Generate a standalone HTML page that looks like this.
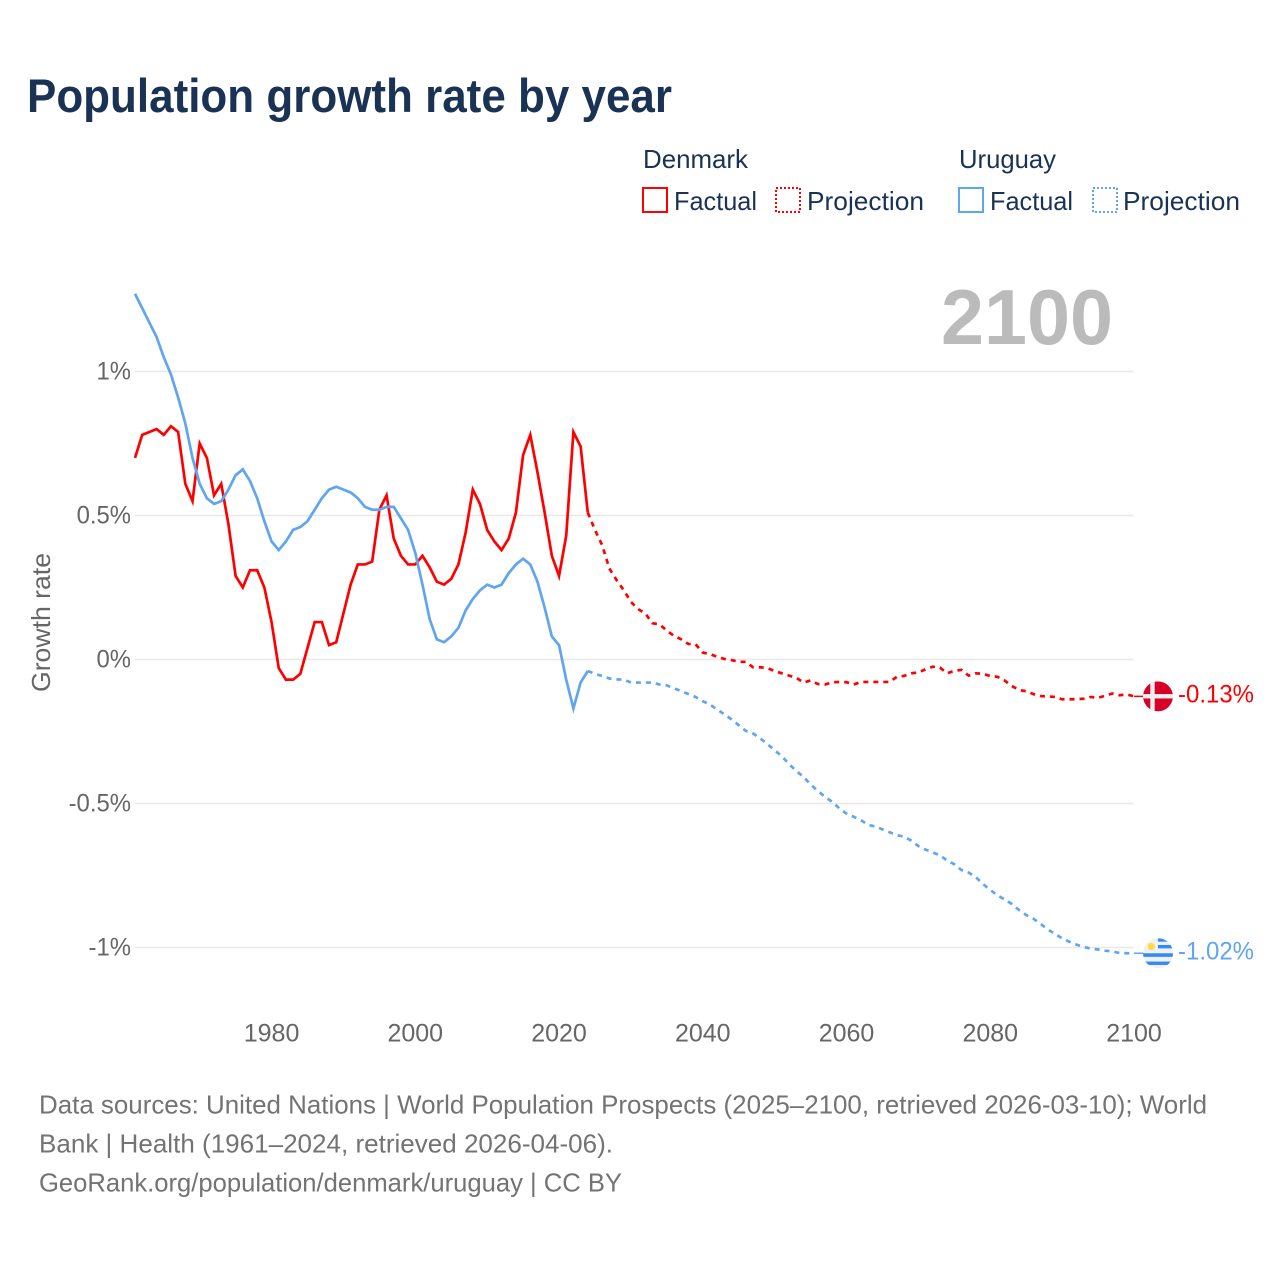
<!DOCTYPE html>
<html lang="en">
<head>
<meta charset="utf-8">
<title>Population growth rate by year</title>
<style>
html,body{margin:0;padding:0;background:#fff;width:1280px;height:1280px;overflow:hidden}
svg{display:block}
text{font-family:"Liberation Sans",sans-serif}
</style>
</head>
<body>
<svg id="chart" xmlns="http://www.w3.org/2000/svg" width="1280" height="1280" viewBox="0 0 1280 1280">
  <defs>
    <clipPath id="flag-clip"><circle cx="0" cy="0" r="15"/></clipPath>
  </defs>
  <rect x="0" y="0" width="1280" height="1280" fill="#fff"/>
  <text x="27" y="112" font-size="47" font-weight="700" fill="#1a3354" textLength="645" lengthAdjust="spacingAndGlyphs">Population growth rate by year</text>

  <g font-size="26" fill="#1a3354">
    <text x="643" y="168" textLength="105" lengthAdjust="spacingAndGlyphs">Denmark</text>
    <text x="959" y="168" textLength="97" lengthAdjust="spacingAndGlyphs">Uruguay</text>
    <rect x="643" y="188" width="24" height="24" fill="none" stroke="#ff0000" stroke-width="2"/>
    <text x="674" y="210" textLength="83" lengthAdjust="spacingAndGlyphs">Factual</text>
    <rect x="776" y="188" width="24" height="24" fill="none" stroke="#ff0000" stroke-width="2" stroke-dasharray="2 2"/>
    <text x="807" y="210" textLength="117" lengthAdjust="spacingAndGlyphs">Projection</text>
    <rect x="959" y="188" width="24" height="24" fill="none" stroke="#60a5ef" stroke-width="2"/>
    <text x="990" y="210" textLength="83" lengthAdjust="spacingAndGlyphs">Factual</text>
    <rect x="1093" y="188" width="24" height="24" fill="none" stroke="#60a5ef" stroke-width="2" stroke-dasharray="2 2"/>
    <text x="1123" y="210" textLength="117" lengthAdjust="spacingAndGlyphs">Projection</text>
  </g>

  <g id="grid"></g>
  <g id="y-ticks"></g>
  <g id="x-ticks"></g>
  <text x="0" y="0" transform="translate(50,622.5) rotate(-90)" text-anchor="middle" font-size="26" fill="#666" textLength="139" lengthAdjust="spacingAndGlyphs">Growth rate</text>
  <text id="year-label" x="941" y="344" font-size="78" font-weight="700" fill="#bbbbbb" textLength="172" lengthAdjust="spacingAndGlyphs"></text>
  <g id="series"></g>
  <g id="markers"></g>

  <g font-size="26" fill="#737373">
    <text x="39" y="1113.5" textLength="1168" lengthAdjust="spacingAndGlyphs">Data sources: United Nations | World Population Prospects (2025–2100, retrieved 2026-03-10); World</text>
    <text x="39" y="1152.5" textLength="574" lengthAdjust="spacingAndGlyphs">Bank | Health (1961–2024, retrieved 2026-04-06).</text>
    <text x="39" y="1191.5" textLength="583" lengthAdjust="spacingAndGlyphs">GeoRank.org/population/denmark/uruguay | CC BY</text>
  </g>
</svg>
<script>
const yearTicks = [1980, 2000, 2020, 2040, 2060, 2080, 2100];
const valueTicks = [1, 0.5, 0, -0.5, -1];
const valueTickLabels = ["1%", "0.5%", "0%", "-0.5%", "-1%"];
const factualStart = 1961;
const projectionStart = 2024;
const endYear = 2100;
const denmarkFactual = [
  0.70,0.78,0.79,0.80,0.78,0.81,0.79,0.61,0.55,0.75,
  0.70,0.57,0.61,0.47,0.29,0.25,0.31,0.31,0.25,0.13,
  -0.03,-0.07,-0.07,-0.05,0.04,0.13,0.13,0.05,0.06,0.16,
  0.26,0.33,0.33,0.34,0.52,0.57,0.42,0.36,0.33,0.33,
  0.36,0.32,0.27,0.26,0.28,0.33,0.44,0.59,0.54,0.45,
  0.41,0.38,0.42,0.51,0.71,0.78,0.65,0.51,0.36,0.29,
  0.43,0.79,0.74,0.51
];
const uruguayFactual = [
  1.27,1.22,1.17,1.12,1.05,0.99,0.91,0.82,0.70,0.61,
  0.56,0.54,0.55,0.59,0.64,0.66,0.62,0.56,0.48,0.41,
  0.38,0.41,0.45,0.46,0.48,0.52,0.56,0.59,0.60,0.59,
  0.58,0.56,0.53,0.52,0.52,0.53,0.53,0.49,0.45,0.37,
  0.26,0.14,0.07,0.06,0.08,0.11,0.17,0.21,0.24,0.26,
  0.25,0.26,0.30,0.33,0.35,0.33,0.27,0.18,0.08,0.05,
  -0.07,-0.17,-0.08,-0.04
];
const denmarkProjection = [
  0.51,0.45,0.397,0.316,0.276,0.241,0.20,0.175,0.16,0.126,
  0.122,0.10,0.082,0.07,0.054,0.053,0.024,0.019,0.009,0.002,
  -0.002,-0.008,-0.008,-0.027,-0.027,-0.03,-0.04,-0.048,-0.056,-0.063,
  -0.08,-0.073,-0.085,-0.087,-0.079,-0.078,-0.079,-0.087,-0.078,-0.078,
  -0.078,-0.078,-0.078,-0.06,-0.057,-0.048,-0.045,-0.034,-0.025,-0.028,
  -0.048,-0.039,-0.036,-0.056,-0.048,-0.05,-0.057,-0.06,-0.073,-0.092,
  -0.106,-0.11,-0.12,-0.127,-0.128,-0.13,-0.138,-0.138,-0.138,-0.136,
  -0.13,-0.133,-0.126,-0.118,-0.124,-0.121,-0.128
];
const uruguayProjection = [
  -0.04,-0.05,-0.057,-0.066,-0.069,-0.07,-0.08,-0.08,-0.08,-0.08,
  -0.087,-0.09,-0.10,-0.11,-0.12,-0.13,-0.145,-0.156,-0.174,-0.19,
  -0.208,-0.228,-0.248,-0.257,-0.274,-0.294,-0.315,-0.336,-0.363,-0.387,
  -0.407,-0.434,-0.456,-0.477,-0.494,-0.517,-0.535,-0.546,-0.558,-0.574,
  -0.58,-0.59,-0.60,-0.61,-0.615,-0.629,-0.648,-0.66,-0.67,-0.68,
  -0.698,-0.711,-0.731,-0.74,-0.756,-0.78,-0.80,-0.819,-0.833,-0.849,
  -0.87,-0.887,-0.90,-0.918,-0.937,-0.953,-0.968,-0.98,-0.99,-0.998,
  -1.004,-1.007,-1.011,-1.014,-1.019,-1.02,-1.02
];

const NS = "http://www.w3.org/2000/svg";
const plotLeft = 135, plotRight = 1133.5;
function xScale(year) { return 135 + (year - 1961) * (1134 - 135) / (2100 - 1961); }
function yScale(v) { return 659.5 - v * 288; }
function make(tag, attrs, parent) {
  const el = document.createElementNS(NS, tag);
  for (const k in attrs) el.setAttribute(k, attrs[k]);
  parent.appendChild(el);
  return el;
}
function pathFor(values, startYear) {
  return values.map((v, i) => (i ? "L" : "M") + xScale(startYear + i).toFixed(2) + " " + yScale(v).toFixed(2)).join(" ");
}

const gridG = document.getElementById("grid");
const yG = document.getElementById("y-ticks");
valueTicks.forEach((v, i) => {
  const line = make("line", {x1: plotLeft, x2: plotRight, y1: yScale(v), y2: yScale(v), stroke: "#e8e8e8", "stroke-width": 1.5}, gridG);
  
  
  const t = make("text", {x: 131, y: yScale(v) + 8, "text-anchor": "end", "font-size": 25, fill: "#666"}, yG);
  
  
  t.textContent = valueTickLabels[i];
  const natural = t.getComputedTextLength();
  t.setAttribute("textLength", (natural * 0.955).toFixed(1));
  t.setAttribute("lengthAdjust", "spacingAndGlyphs");
});
const xG = document.getElementById("x-ticks");
yearTicks.forEach(year => {
  const t = make("text", {x: xScale(year), y: 1041.5, "text-anchor": "middle", "font-size": 25, fill: "#666"}, xG);
  
  
  t.textContent = String(year);
});
document.getElementById("year-label").textContent = String(endYear);

const seriesG = document.getElementById("series");
const RED = "#ff0000", BLUE = "#60a5ef";
const denFact = make("path", {d: pathFor(denmarkFactual, factualStart), fill: "none", stroke: RED, "stroke-width": 2.7}, seriesG);


const uruFact = make("path", {d: pathFor(uruguayFactual, factualStart), fill: "none", stroke: BLUE, "stroke-width": 2.7}, seriesG);


const denProj = make("path", {d: pathFor(denmarkProjection, projectionStart), fill: "none", stroke: RED, "stroke-width": 2.7, "stroke-dasharray": "5 5"}, seriesG);


const uruProj = make("path", {d: pathFor(uruguayProjection, projectionStart), fill: "none", stroke: BLUE, "stroke-width": 2.7, "stroke-dasharray": "5 5"}, seriesG);



const markersG = document.getElementById("markers");
const flagX = 1158;
function lastOf(arr) { return arr[arr.length - 1]; }
function valueText(v) { return v.toFixed(2) + "%"; }

// Denmark end marker
const denY = yScale(lastOf(denmarkProjection));
const denLead = make("line", {x1: xScale(endYear), x2: flagX - 15, y1: denY, y2: denY, stroke: RED, "stroke-width": 1.5}, markersG);


const denFlag = make("g", {transform: "translate(" + flagX + "," + denY + ")", "clip-path": "url(#flag-clip)"}, markersG);


make("circle", {cx: 0, cy: 0, r: 15, fill: "#d80027"}, denFlag);
make("rect", {x: -7.7, y: -15, width: 4.4, height: 30, fill: "#f0f0f0"}, denFlag);
make("rect", {x: -15, y: -2.3, width: 30, height: 4.4, fill: "#f0f0f0"}, denFlag);
const denVal = make("text", {x: 1178, y: denY + 6, "font-size": 25, fill: RED, textLength: 76, lengthAdjust: "spacingAndGlyphs"}, markersG);


denVal.textContent = valueText(lastOf(denmarkProjection));

// Uruguay end marker
const uruY = yScale(lastOf(uruguayProjection));
const uruLead = make("line", {x1: xScale(endYear), x2: flagX - 15, y1: uruY, y2: uruY, stroke: BLUE, "stroke-width": 1.5}, markersG);


const uruFlag = make("g", {transform: "translate(" + flagX + "," + uruY + ")", "clip-path": "url(#flag-clip)"}, markersG);


make("circle", {cx: 0, cy: 0, r: 15, fill: "#f0f0f0"}, uruFlag);
make("rect", {x: 0, y: -15, width: 15, height: 3.4, fill: "#338af3"}, uruFlag);
make("rect", {x: 0, y: -8.3, width: 15, height: 3.4, fill: "#338af3"}, uruFlag);
make("rect", {x: -15, y: 0, width: 30, height: 3.6, fill: "#338af3"}, uruFlag);
make("rect", {x: -15, y: 8.3, width: 30, height: 3.4, fill: "#338af3"}, uruFlag);
make("circle", {cx: -6.7, cy: -6.7, r: 3.6, fill: "#ffda44"}, uruFlag);
const uruVal = make("text", {x: 1178, y: uruY + 6, "font-size": 25, fill: BLUE, textLength: 76, lengthAdjust: "spacingAndGlyphs"}, markersG);


uruVal.textContent = valueText(lastOf(uruguayProjection));
</script>
</body>
</html>
